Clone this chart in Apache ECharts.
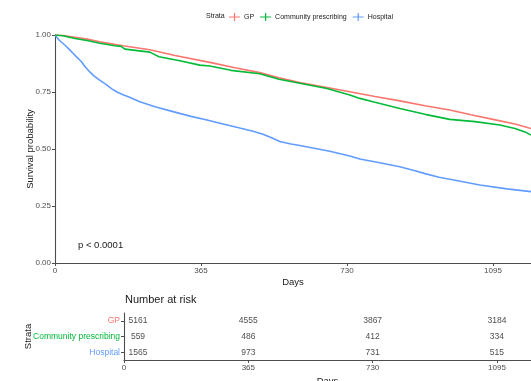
<!DOCTYPE html>
<html>
<head>
<meta charset="utf-8">
<script src="https://cdn.jsdelivr.net/npm/echarts@6/dist/echarts.min.js"></script>
<style>
  html, body { margin: 0; padding: 0; background: #fff; }
  #km { width: 531px; height: 381px; }
</style>
</head>
<body>
<div id="km"></div>
<script>
  // 生存曲线数据
  const strata = ['GP', 'Community prescribing', 'Hospital'];
  const colors = ['#F8766D', '#00BA38', '#619CFF'];

  const gpTime = [0, 20, 50, 80, 112, 170, 237, 300, 387, 450, 512, 560, 612, 680, 737, 800, 862, 925, 987, 1040, 1095, 1150, 1190];
  const gpSurv = [1.0, 0.998, 0.99, 0.982, 0.97, 0.953, 0.935, 0.91, 0.88, 0.856, 0.835, 0.812, 0.791, 0.77, 0.751, 0.73, 0.711, 0.69, 0.671, 0.65, 0.63, 0.61, 0.59];

  const cpTime = [0, 20, 50, 80, 112, 150, 165, 175, 237, 260, 312, 362, 387, 440, 512, 560, 612, 680, 737, 762, 800, 862, 925, 987, 1050, 1112, 1150, 1175, 1190];
  const cpSurv = [1.0, 0.997, 0.985, 0.976, 0.964, 0.953, 0.95, 0.938, 0.925, 0.905, 0.887, 0.868, 0.864, 0.845, 0.83, 0.806, 0.788, 0.765, 0.737, 0.722, 0.705, 0.678, 0.652, 0.63, 0.62, 0.605, 0.59, 0.575, 0.561];

  const hoTime = [0, 10, 25, 35, 45, 55, 65, 76, 87, 98, 110, 120, 130, 142, 155, 170, 185, 212, 250, 295, 340, 380, 420, 462, 495, 520, 540, 562, 590, 612, 687, 737, 762, 812, 862, 900, 925, 960, 1010, 1062, 1130, 1190];
  const hoSurv = [1.0, 0.978, 0.955, 0.938, 0.92, 0.902, 0.885, 0.86, 0.838, 0.82, 0.804, 0.792, 0.78, 0.764, 0.75, 0.738, 0.728, 0.707, 0.685, 0.664, 0.643, 0.627, 0.61, 0.592, 0.578, 0.565, 0.55, 0.533, 0.522, 0.515, 0.49, 0.469, 0.456, 0.44, 0.422, 0.405, 0.392, 0.376, 0.36, 0.342, 0.325, 0.313];

  // 风险人数表
  const riskTimes = [0, 365, 730, 1095];
  const riskGP = [5161, 4555, 3867, 3184];
  const riskCommunity = [559, 486, 412, 334];
  const riskHospital = [1565, 973, 731, 515];

  const xTicks = [0, 365, 730, 1095];

  const pair = (t, s) => t.map((v, i) => [v, s[i]]);
  const axisColor = '#4d4d4d';
  const fontFamily = 'Liberation Sans, Arial, sans-serif';

  const riskRows = [riskGP, riskCommunity, riskHospital];
  const riskData = [];
  riskRows.forEach((row, r) => {
    row.forEach((n, i) => {
      riskData.push({
        value: [riskTimes[i], strata[r], n],
        label: { offset: i === 0 ? [14, 0] : [0, 0] }
      });
    });
  });

  const xAxisBase = (grid, max, gap) => ({
    gridIndex: grid, type: 'value', min: 0, max: max,
    name: 'Days', nameLocation: 'middle', nameGap: gap, nameMoveOverlap: false,
    nameTextStyle: { fontSize: 9.5, color: '#1a1a1a' },
    splitLine: { show: false },
    axisLine: { show: true, onZero: false, lineStyle: { color: axisColor, width: 1.1 } },
    axisTick: { show: true, length: 3, customValues: xTicks, lineStyle: { color: axisColor } },
    axisLabel: { customValues: xTicks, fontSize: 8, color: '#4d4d4d', margin: 4, formatter: v => String(v) }
  });

  const chart = echarts.init(document.getElementById('km'));
  const option = {
    animation: false,
    textStyle: { fontFamily: fontFamily },
    color: colors,
    legend: {
      top: 8,
      left: 224,
      itemWidth: 11,
      itemHeight: 8,
      itemGap: 6,
      icon: 'path://M0,3.4H11V4.6H0Z M4.9,0H6.1V8H4.9Z',
      textStyle: { fontSize: 7, color: '#1a1a1a', padding: [0, 0, 0, -1] },
      data: strata
    },
    graphic: [
      {
        type: 'text', left: 206, top: 13,
        style: { text: 'Strata', fontSize: 7, fill: '#1a1a1a', fontFamily: fontFamily }
      },
      {
        type: 'text', left: 78, top: 240,
        style: { text: 'p < 0.0001', fontSize: 9.5, fill: '#1a1a1a', fontFamily: fontFamily }
      },
      {
        type: 'text', left: 125, top: 294,
        style: { text: 'Number at risk', fontSize: 11, fill: '#1a1a1a', fontFamily: fontFamily }
      }
    ],
    grid: [
      { left: 55, right: 0, top: 35, height: 228, outerBoundsMode: 'none' },
      { left: 124, right: 0, top: 313, height: 47, outerBoundsMode: 'none' }
    ],
    xAxis: [
      xAxisBase(0, 1190, 14),
      xAxisBase(1, 1195, 16)
    ],
    yAxis: [
      {
        gridIndex: 0, type: 'value', min: 0, max: 1, interval: 0.25,
        name: 'Survival probability', nameLocation: 'middle', nameGap: 20, nameMoveOverlap: false,
        nameTextStyle: { fontSize: 9.5, color: '#1a1a1a' },
        splitLine: { show: false },
        axisLine: { show: true, onZero: false, lineStyle: { color: axisColor, width: 1.1 } },
        axisTick: { show: true, length: 3, lineStyle: { color: axisColor } },
        axisLabel: { fontSize: 8, color: '#4d4d4d', margin: 4, formatter: v => v.toFixed(2) }
      },
      {
        gridIndex: 1, type: 'category', data: strata, inverse: true,
        name: 'Strata', nameLocation: 'middle', nameGap: 91, nameMoveOverlap: false,
        nameTextStyle: { fontSize: 9.5, color: '#1a1a1a' },
        axisLine: { show: true, onZero: false, lineStyle: { color: axisColor, width: 1.1 } },
        axisTick: { show: true, length: 3, alignWithLabel: true, lineStyle: { color: axisColor } },
        axisLabel: {
          fontSize: 8.5, margin: 4,
          color: (v, i) => colors[strata.indexOf(v)]
        }
      }
    ],
    series: [
      {
        name: strata[0], type: 'line', xAxisIndex: 0, yAxisIndex: 0,
        data: pair(gpTime, gpSurv), showSymbol: false,
        lineStyle: { width: 1.6, color: colors[0] }, itemStyle: { color: colors[0] }, z: 3
      },
      {
        name: strata[1], type: 'line', xAxisIndex: 0, yAxisIndex: 0,
        data: pair(cpTime, cpSurv), showSymbol: false,
        lineStyle: { width: 1.6, color: colors[1] }, itemStyle: { color: colors[1] }, z: 4
      },
      {
        name: strata[2], type: 'line', xAxisIndex: 0, yAxisIndex: 0,
        data: pair(hoTime, hoSurv), showSymbol: false,
        lineStyle: { width: 1.6, color: colors[2] }, itemStyle: { color: colors[2] }, z: 2
      },
      {
        type: 'scatter', xAxisIndex: 1, yAxisIndex: 1,
        data: riskData, symbolSize: 0, silent: true,
        label: {
          show: true, position: 'inside', fontSize: 8.5, color: '#1a1a1a',
          formatter: p => p.value[2]
        }
      }
    ]
  };
  chart.setOption(option);
</script>
</body>
</html>
